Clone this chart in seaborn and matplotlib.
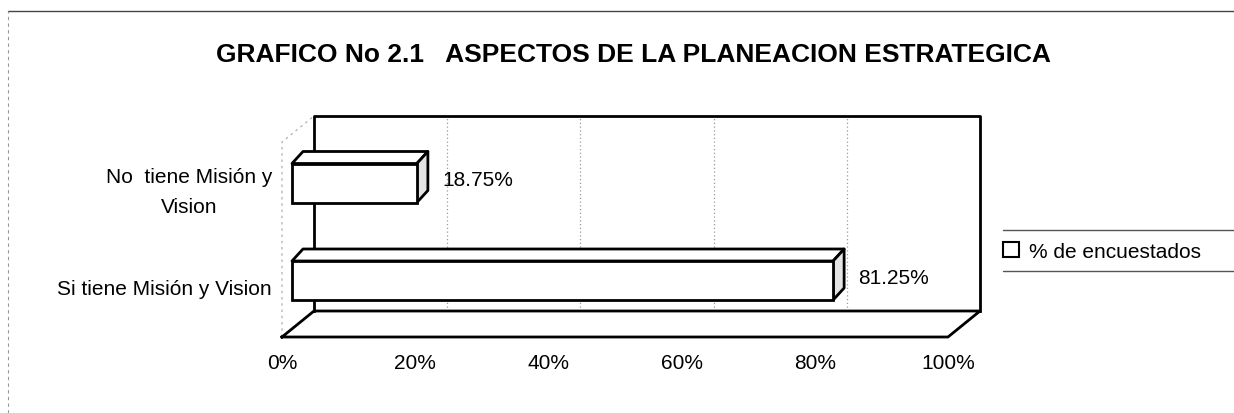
import matplotlib
matplotlib.use("Agg")
import matplotlib.pyplot as plt
from matplotlib.patches import Polygon
from matplotlib.lines import Line2D
from matplotlib.transforms import offset_copy
import seaborn as sns
import pandas as pd

# ---------------- data ----------------
categories = ["No  tiene Misión y\nVision", "Si tiene Misión y Vision"]
values = [18.75, 81.25]
value_labels = ["18.75%", "81.25%"]
xticks = [0, 20, 40, 60, 80, 100]
xtick_labels = ["0%", "20%", "40%", "60%", "80%", "100%"]
series_name = "% de encuestados"
title = "GRAFICO No 2.1   ASPECTOS DE LA PLANEACION ESTRATEGICA"

df = pd.DataFrame({"cat": categories, "val": values})

# ---------------- style ----------------
sns.set_theme(style="white")
FONTS = ["Liberation Sans Narrow", "Liberation Sans", "DejaVu Sans"]
plt.rcParams["font.family"] = FONTS
plt.rcParams["text.color"] = "black"
plt.rcParams["xtick.labelcolor"] = "black"
plt.rcParams["ytick.labelcolor"] = "black"

W, H, DPI = 1234, 414, 100
fig = plt.figure(figsize=(W / DPI, H / DPI), dpi=DPI, facecolor="white")

# layout (pixels, measured from top-left)
AX_L, AX_R, AX_T, AX_B = 282, 981, 117, 338
X0_PX, PX_PER_PCT = 292, 6.66
Y0_PX, PX_PER_CAT = 184, 97.5
BAR_W = 0.4
FRONT_DX = -10              # floor front edge relative to bar plane
BACK_DX, BACK_DY = 22, -26  # back wall relative to bar plane at floor
BAR_DX, BAR_DY = 11, -12    # bar depth
LW = 2.0

ax = fig.add_axes([AX_L / W, 1 - AX_B / H, (AX_R - AX_L) / W, (AX_B - AX_T) / H])
xlim = ((AX_L - X0_PX) / PX_PER_PCT, (AX_R - X0_PX) / PX_PER_PCT)
ylim = ((AX_B - Y0_PX) / PX_PER_CAT, (AX_T - Y0_PX) / PX_PER_CAT)


def P(v, d, dx=0.0, dy=0.0):
    return (v + dx / PX_PER_PCT, d + dy / PX_PER_CAT)


sns.barplot(data=df, x="val", y="cat", orient="h", width=BAR_W, color="white",
            edgecolor="black", linewidth=LW, ax=ax, label=series_name, zorder=5)
if ax.get_legend() is not None:
    ax.get_legend().remove()
for p in ax.patches:
    p.set_facecolor("white")
    p.set_edgecolor("black")
ax.set_xlim(*xlim)
ax.set_ylim(*ylim)
for s in ax.spines.values():
    s.set_visible(False)
ax.set_facecolor("none")
ax.set_xlabel("")
ax.set_ylabel("")
ax.grid(False)

dB, dT = ylim[0], ylim[1]

def line(pts, **kw):
    xs, ys = zip(*pts)
    ax.plot(xs, ys, clip_on=False, solid_capstyle="projecting", **kw)

# back wall gridlines (dotted)
for t in xticks[1:-1]:
    line([P(t, dB, BACK_DX, BACK_DY), P(t, dT, BACK_DX, 0)], color="#9a9a9a",
         lw=0.9, ls=(0, (1, 2)), zorder=1)
# back wall outline
line([P(0, dB, BACK_DX, BACK_DY), P(0, dT, BACK_DX, 0), P(100, dT, BACK_DX, 0),
      P(100, dB, BACK_DX, BACK_DY)], color="black", lw=LW, zorder=2)
# floor
line([P(0, dB, FRONT_DX, 0), P(100, dB, FRONT_DX, 0), P(100, dB, BACK_DX, BACK_DY),
      P(0, dB, BACK_DX, BACK_DY), P(0, dB, FRONT_DX, 0)], color="black", lw=LW, zorder=2)
# faint side wall
line([P(0, dB, FRONT_DX, 0), P(0, dT, FRONT_DX, -BACK_DY), P(0, dT, BACK_DX, 0)],
     color="#b0b0b0", lw=0.9, ls=(0, (2, 3)), zorder=1)

# 3D faces of the bars
for i, v in enumerate(values):
    top, bot = i - BAR_W / 2, i + BAR_W / 2
    top_face = [P(0, top), P(v, top), P(v, top, BAR_DX, BAR_DY), P(0, top, BAR_DX, BAR_DY)]
    side_face = [P(v, top), P(v, top, BAR_DX, BAR_DY), P(v, bot, BAR_DX, BAR_DY), P(v, bot)]
    ax.add_patch(Polygon(top_face, closed=True, facecolor="white", edgecolor="black",
                         lw=LW, joinstyle="round", zorder=4, clip_on=False))
    ax.add_patch(Polygon(side_face, closed=True, facecolor="#e4e4e4", edgecolor="black",
                         lw=LW, joinstyle="round", zorder=4, clip_on=False))
    tx, ty = P(v, i, 25, -3)
    ax.text(tx, ty, value_labels[i], ha="left", va="center", fontsize=15,
            family=FONTS, color="black", zorder=6)

# ticks
ax.set_xticks(xticks)
ax.set_xticklabels(xtick_labels, fontsize=15)
ax.tick_params(axis="x", length=0, pad=11.5, labelcolor="black")
ax.tick_params(axis="y", length=0, pad=7.2, labelsize=15, labelcolor="black")
for lab in ax.get_xticklabels():
    lab.set_transform(offset_copy(lab.get_transform(), fig=fig, x=FRONT_DX, y=0, units="dots"))
for lab in ax.get_yticklabels():
    multi = "\n" in lab.get_text()
    lab.set_multialignment("center")
    lab.set_linespacing(1.75)
    lab.set_transform(offset_copy(lab.get_transform(), fig=fig, x=0,
                                  y=(-1 if multi else -6), units="dots"))

# title
fig.text(633 / W, 1 - 55 / H, title, ha="center", va="center", fontsize=19,
         fontweight="bold", family=FONTS, color="black")

# legend
h, l = ax.get_legend_handles_labels()
leg = fig.legend(h[:1], [series_name], loc="center left",
                 bbox_to_anchor=(1003 / W, 1 - 252 / H), frameon=False, fontsize=15,
                 handlelength=0.75, handleheight=0.75, handletextpad=0.5,
                 borderpad=0.0, borderaxespad=0.0)
for lh in leg.legend_handles:
    lh.set_facecolor("white")
    lh.set_edgecolor("black")
    lh.set_linewidth(1.5)
for t in leg.get_texts():
    t.set_color("black")
for yy in (231, 272):
    fig.add_artist(Line2D([1003 / W, 1.0], [1 - yy / H] * 2, color="#555555", lw=1.0))

# outer border (scan edge)
fig.add_artist(Line2D([8 / W, 1.0], [1 - 12 / H] * 2, color="#444444", lw=1.0))
fig.add_artist(Line2D([8 / W, 8 / W], [0, 1 - 12 / H], color="#999999", lw=0.8, ls=(0, (3, 3))))

fig.savefig("out.png", dpi=DPI, facecolor="white")
